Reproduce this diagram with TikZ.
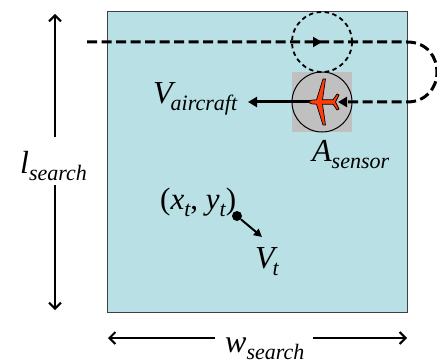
\documentclass[tikz,border=0pt]{standalone}
\usepackage{fontspec}
\setmainfont{Liberation Serif}
\usetikzlibrary{arrows.meta}
\newcommand{\mainsym}[1]{{\fontsize{32}{32}\selectfont\itshape #1}}
\newcommand{\subs}[1]{{\fontsize{22}{22}\selectfont\itshape\raisebox{-7pt}{#1}}}
\tikzset{
  x=1pt,y=-1pt,
  lbl/.style={inner sep=0pt,anchor=base west,text=black},
  barb/.style={line width=2pt,draw=black},
  bhead/.tip={Straight Barb[length=6pt,width=12pt,line width=2pt]},
  pathdash/.style={line width=3pt,draw=black,dash pattern=on 10pt off 4.5pt},
  tipsolid/.style={-{Triangle[length=9pt,width=10pt]}},
  thinc/.style={draw=black,line width=1pt}
}
\definecolor{field}{RGB}{184,224,229}
\definecolor{sensorgray}{RGB}{192,192,192}
\definecolor{planered}{RGB}{255,60,10}
\begin{document}
\begin{tikzpicture}
\useasboundingbox (0,0) rectangle (437,361);
\node[draw=black!75,line width=1pt,fill=field,minimum width=300pt,minimum height=300pt,inner sep=0pt] (field) at (257,162) {};
\node[fill=sensorgray,minimum size=60pt,inner sep=0pt] (sensor) at (322,102) {};
\node[circle,thinc,minimum size=60pt,inner sep=0pt] (acirc) at (322,102) {};
\node[circle,draw=black,line width=1.8pt,dash pattern=on 4.5pt off 3.5pt,minimum size=60pt,inner sep=0pt] (scirc) at (322,42) {};
\coordinate (p0) at (87,42);
\coordinate (p1) at (322,42);
\coordinate (p2) at (407,42);
\coordinate (p3) at (407,102);
\coordinate (p4) at (338,102);
\coordinate (p5) at (248,102);
\coordinate (dot) at (237,216);
\coordinate (vt) at (262,237);
\draw[pathdash] (p0) -- (p2) .. controls (428,42) and (437,58) .. (437,72) .. controls (437,88) and (426,102) .. (p3) -- (347,102);
\draw[line width=2.4pt,tipsolid] (312,42) -- (p1);
\draw[line width=3pt,tipsolid] (322,102) -- (p5);
\begin{scope}[shift={(322,102)}]
\draw[fill=planered,draw=black,line width=0.7pt,line join=round]
 (-14,0) .. controls (-12,-2) and (-9,-2.2) .. (-5.5,-2.2)
 -- (1,-23) -- (3.5,-23) -- (0.5,-2.2) -- (11,-2.2) -- (15,-8) -- (17,-7) -- (13.5,0)
 -- (17,7) -- (15,8) -- (11,2.2) -- (0.5,2.2) -- (3.5,23) -- (1,23) -- (-5.5,2.2)
 .. controls (-9,2.2) and (-12,2) .. (-14,0) -- cycle;
\end{scope}
\draw[line width=2.4pt,tipsolid] (347,102) -- (p4);
\node[circle,fill=black,minimum size=10pt,inner sep=0pt] (tgt) at (dot) {};
\draw[line width=2pt,-{Triangle[length=8pt,width=8pt]}] (tgt) -- (vt);
\coordinate (l1) at (55,14);
\coordinate (l2) at (55,137);
\coordinate (l3) at (55,185);
\coordinate (l4) at (55,310);
\draw[barb,{bhead}-] (l1) -- (l2);
\draw[barb,-{bhead}] (l3) -- (l4);
\coordinate (w1) at (108,338);
\coordinate (w2) at (215,338);
\coordinate (w3) at (313,338);
\coordinate (w4) at (407,338);
\draw[barb,{bhead}-] (w1) -- (w2);
\draw[barb,-{bhead}] (w3) -- (w4);
\node[lbl] (lv) at (153,103) {\mainsym{V}\kern-2pt\subs{aircraft}};
\node[lbl] (ll) at (20,173) {\mainsym{l}\subs{search}};
\node[lbl] (la) at (312,161) {\mainsym{A}\subs{sensor}};
\node[lbl] (lxy) at (160,209) {{\fontsize{31}{31}\selectfont (\itshape x}\subs{t}{\fontsize{31}{31}\selectfont , \itshape y}\subs{t}{\fontsize{31}{31}\selectfont )}};
\node[lbl] (lvt) at (255,268) {\mainsym{V}\kern-2pt\subs{t}};
\node[lbl] (lw) at (225,352) {\mainsym{w}\subs{search}};
\end{tikzpicture}
\end{document}
